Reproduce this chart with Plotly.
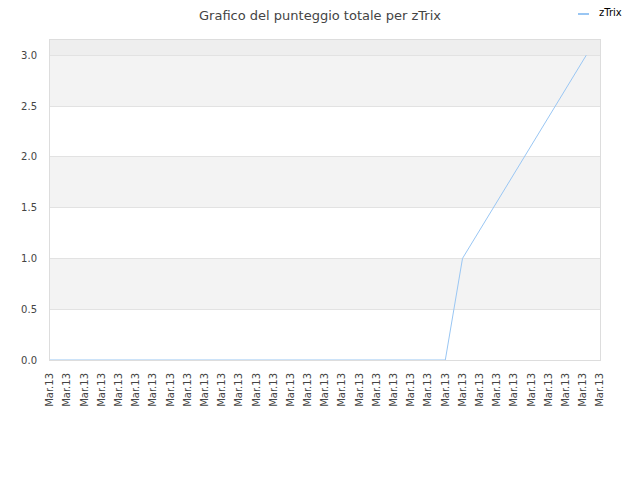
import plotly.graph_objects as go
import pandas as pd

# dati
tempi = ["2013-03-13 10:00", "2013-03-13 11:00", "2013-03-13 12:00", "2013-03-13 13:00",
         "2013-03-13 13:50", "2013-03-13 14:00", "2013-03-13 14:36", "2013-03-13 15:12"]
punteggio = [0, 0, 0, 0, 0, 1, 2, 3]
etichette_y = [0.0, 0.5, 1.0, 1.5, 2.0, 2.5, 3.0]
nome_serie = "zTrix"
colore = "#99c6f3"

inizio = pd.Timestamp("2013-03-13 10:00")
fine = pd.Timestamp("2013-03-13 15:20")
tick_x = pd.date_range(inizio, fine, freq="10min")

W, H = 640, 480
SP = 8  # spostamento della pagina (margine del body)

fig = go.Figure()
fig.add_trace(go.Scatter(x=pd.to_datetime(tempi), y=punteggio, mode="lines", name=nome_serie,
                         line=dict(color=colore, width=1), showlegend=False))

# bande alternate di sfondo
forme = []
for i, y0 in enumerate(etichette_y):
    y1 = y0 + 0.5 if y0 < 3.0 else 3.15
    if i % 2 == 1:
        col = "#f3f3f3"
    elif y0 == 3.0:
        col = "#eeeeee"
    else:
        continue
    forme.append(dict(type="rect", xref="paper", yref="y", x0=0, x1=1, y0=y0, y1=y1,
                      fillcolor=col, line=dict(width=0), layer="below"))

# legenda disegnata a mano (linea corta + testo)
ml, mt, mr, mb = 50 - SP, 40 - SP, 40 + SP, 120 + SP
pw, ph = W - ml - mr, H - mt - mb
def px_x(x):
    return (x - SP - ml) / pw
def px_y(y):
    return 1 - (y - SP - mt) / ph
forme.append(dict(type="line", xref="paper", yref="paper", x0=px_x(578), x1=px_x(589),
                  y0=px_y(14), y1=px_y(14), line=dict(color=colore, width=2)))

fig.update_layout(
    width=W, height=H,
    margin=dict(l=ml, r=mr, t=mt, b=mb, autoexpand=False),
    paper_bgcolor="white", plot_bgcolor="white",
    font=dict(family="DejaVu Sans", size=10, color="#444444"),
    title=dict(text="Grafico del punteggio totale per zTrix", x=px_x(320), xanchor="center",
               xref="paper", yref="container", y=1 - 3 / H, yanchor="top",
               font=dict(size=13, color="#444444")),
    showlegend=False,
    shapes=forme,
    annotations=[dict(text=nome_serie, xref="paper", yref="paper", x=px_x(597), y=px_y(13),
                      xanchor="left", yanchor="middle", showarrow=False,
                      font=dict(size=10, color="#000000"))],
)
fig.update_xaxes(range=[inizio, fine], tickvals=tick_x, ticktext=["Mar.13"] * len(tick_x),
                 tickangle=-90, showgrid=False, showline=True, linecolor="#dddddd",
                 mirror=True, ticks="", ticklabelstandoff=8, automargin=False,
                 tickfont=dict(size=10, color="#444444"))
fig.update_yaxes(range=[0, 3.15], tickvals=etichette_y, ticktext=["%.1f" % v for v in etichette_y],
                 showgrid=True, gridcolor="#e2e2e2", showline=True, linecolor="#dddddd",
                 mirror=True, zeroline=False, ticks="", ticklabelstandoff=10, automargin=False,
                 tickfont=dict(size=10, color="#444444"))

fig.write_html("out.html")
